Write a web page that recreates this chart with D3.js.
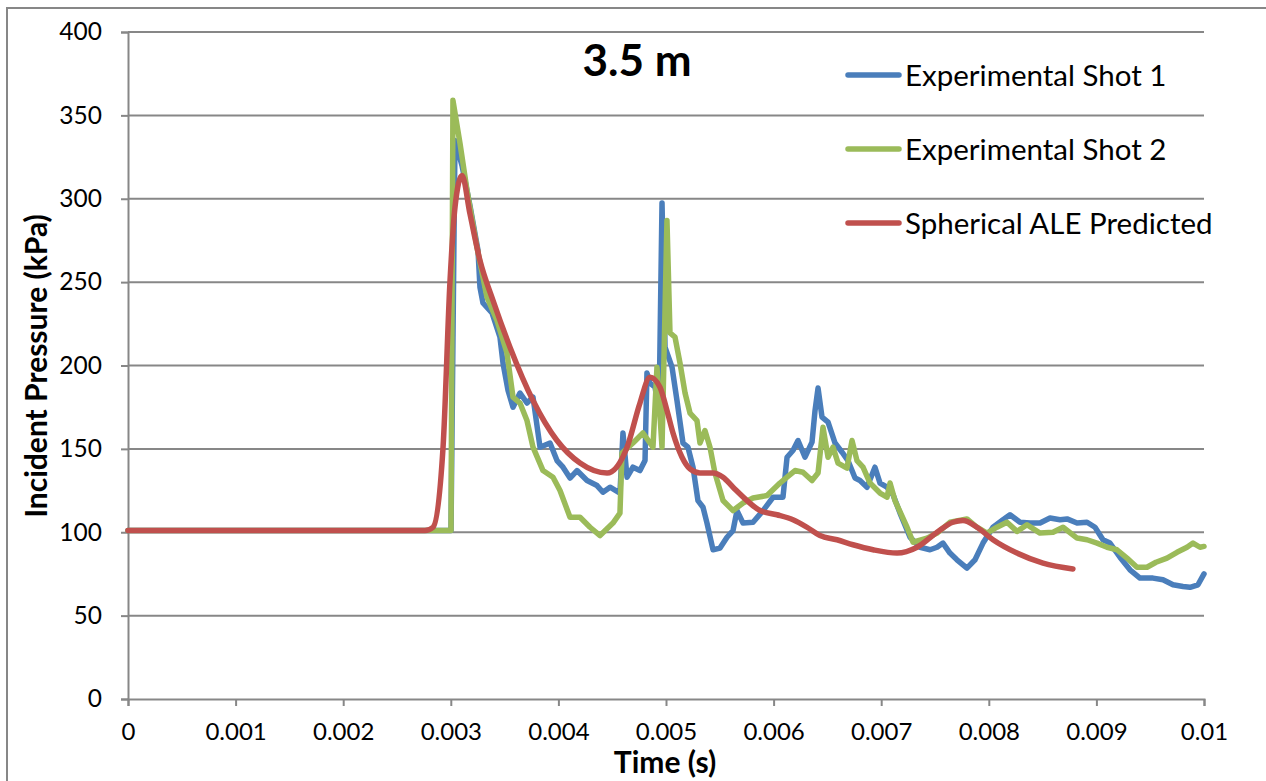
<!DOCTYPE html>
<html>
<head>
<meta charset="utf-8">
<script src="https://cdn.jsdelivr.net/npm/d3@7"></script>
<style>
  html, body { margin: 0; padding: 0; background: #ffffff; }
  svg { display: block; }
  text { font-family: "Lato", "Liberation Sans", sans-serif; fill: #000; }
</style>
</head>
<body>
<svg id="chart" width="1266" height="781"></svg>
<script>
// Time in seconds, incident pressure in kPa
const shot1 = [
  [0, 101], [0.003002, 101], [0.003039, 335], [0.003104, 320], [0.003178, 296], [0.003253, 269],
  [0.003271, 247], [0.003299, 237.5], [0.003383, 231.5], [0.003457, 217], [0.003485, 201.5],
  [0.003532, 185], [0.003578, 175], [0.003643, 183.5], [0.003708, 177.5], [0.003764, 181],
  [0.003829, 151], [0.003922, 153.5], [0.003987, 143], [0.004043, 139], [0.004108, 132.5],
  [0.004173, 137], [0.004266, 131], [0.004359, 128], [0.004414, 124], [0.004480, 127],
  [0.004572, 123.5], [0.004600, 159.5], [0.004638, 133], [0.004693, 139], [0.004758, 137],
  [0.004805, 143], [0.004823, 195.5], [0.004851, 189.5], [0.004898, 187], [0.004935, 171.5],
  [0.004963, 297.5], [0.004991, 211], [0.005056, 199], [0.005102, 179], [0.005158, 153.5],
  [0.005204, 151], [0.005251, 139], [0.005297, 119], [0.005344, 115], [0.005381, 105.5],
  [0.005437, 89.5], [0.005502, 90.5], [0.005567, 97], [0.005623, 101], [0.005660, 113],
  [0.005716, 105.5], [0.005809, 106], [0.005902, 113], [0.005995, 121], [0.006087, 121],
  [0.006125, 145], [0.006180, 149], [0.006227, 155], [0.006292, 145], [0.006357, 154],
  [0.006385, 173], [0.006413, 186.5], [0.006450, 169], [0.006506, 166], [0.006571, 153.5],
  [0.006636, 148], [0.006691, 143], [0.006757, 132.5], [0.006803, 131], [0.006868, 127],
  [0.006942, 139], [0.006989, 129.5], [0.007054, 127], [0.007110, 122.5], [0.007175, 111.5],
  [0.007268, 97], [0.007361, 91], [0.007454, 89.5], [0.007519, 91], [0.007574, 93.5],
  [0.007639, 87.5], [0.007704, 83.5], [0.007797, 78.5], [0.007872, 83.5], [0.007946, 93.5],
  [0.008039, 103], [0.008132, 107.5], [0.008197, 110.5], [0.008290, 106], [0.008383, 105.5],
  [0.008476, 105.5], [0.008569, 108.5], [0.008662, 107.5], [0.008727, 108], [0.008820, 105.5],
  [0.008913, 106], [0.008987, 103], [0.009061, 95.5], [0.009126, 93.5], [0.009219, 85],
  [0.009312, 77.5], [0.009405, 72.5], [0.009526, 72.5], [0.009619, 71.5], [0.009712, 68.5],
  [0.009805, 67.5], [0.009870, 67], [0.009944, 68.5], [0.010000, 75]
];

const shot2 = [
  [0, 101], [0.003002, 101], [0.003020, 359], [0.003086, 333], [0.003151, 305], [0.003243, 271],
  [0.003336, 241], [0.003429, 227], [0.003522, 207.5], [0.003578, 181], [0.003643, 177.5],
  [0.003708, 167], [0.003764, 151], [0.003857, 137], [0.003950, 133], [0.004015, 125],
  [0.004108, 109], [0.004201, 109], [0.004294, 103], [0.004387, 98], [0.004507, 105.5],
  [0.004572, 111.5], [0.004591, 147.5], [0.004693, 153.5], [0.004786, 159.5], [0.004879, 151],
  [0.004916, 199], [0.004963, 151], [0.005009, 287], [0.005037, 219.5], [0.005084, 217],
  [0.005130, 201.5], [0.005177, 183.5], [0.005223, 171.5], [0.005288, 167], [0.005316, 153.5],
  [0.005362, 161], [0.005409, 151], [0.005455, 135.5], [0.005530, 119], [0.005623, 113],
  [0.005716, 117.5], [0.005809, 120.5], [0.005939, 122], [0.006059, 129.5], [0.006125, 133],
  [0.006199, 137], [0.006273, 136], [0.006357, 131], [0.006413, 135.5], [0.006459, 163],
  [0.006506, 145], [0.006552, 151], [0.006599, 141.5], [0.006682, 138.5], [0.006729, 155],
  [0.006775, 143], [0.006831, 139], [0.006896, 129.5], [0.006989, 123.5], [0.007054, 121],
  [0.007082, 129.5], [0.007128, 119], [0.007240, 103], [0.007296, 94], [0.007426, 96.5],
  [0.007519, 99.5], [0.007639, 106], [0.007797, 108], [0.007890, 103], [0.007983, 99.5],
  [0.008076, 103], [0.008169, 106], [0.008262, 100.5], [0.008355, 104.5], [0.008476, 99.5],
  [0.008597, 100], [0.008690, 103], [0.008820, 96.5], [0.008913, 95.5], [0.009006, 93.5],
  [0.009099, 91], [0.009191, 89.5], [0.009284, 84.5], [0.009377, 79], [0.009470, 79],
  [0.009554, 82], [0.009656, 84.5], [0.009749, 88], [0.009842, 91], [0.009898, 93.5],
  [0.009963, 91], [0.010000, 91.5]
];

const aleModel = [
  [0, 101], [0.002760, 101], [0.002835, 103], [0.002928, 151], [0.002993, 251], [0.003039, 295],
  [0.003104, 314], [0.003178, 291], [0.003271, 263], [0.003392, 239], [0.003550, 211],
  [0.003764, 179], [0.003987, 155], [0.004201, 141.5], [0.004452, 135.5], [0.004638, 151],
  [0.004758, 177.5], [0.004851, 193], [0.004944, 187], [0.005009, 173], [0.005065, 159.5],
  [0.005149, 145], [0.005223, 138], [0.005316, 135.5], [0.005437, 135.5], [0.005530, 133],
  [0.005623, 127], [0.005753, 119], [0.005874, 113], [0.006032, 110.5], [0.006180, 107.5],
  [0.006310, 103], [0.006431, 98], [0.006589, 95.5], [0.006738, 92.5], [0.006924, 89.5],
  [0.007147, 87.5], [0.007333, 91], [0.007519, 100], [0.007667, 106], [0.007760, 107],
  [0.007890, 103], [0.008039, 95.5], [0.008262, 87.5], [0.008504, 81.5], [0.008782, 78]
];

const xTicks = [0, 0.001, 0.002, 0.003, 0.004, 0.005, 0.006, 0.007, 0.008, 0.009, 0.01];
const yTicks = [0, 50, 100, 150, 200, 250, 300, 350, 400];

const seriesNames = ["Experimental Shot 1", "Experimental Shot 2", "Spherical ALE Predicted"];
const seriesColors = ["#4a7ebb", "#9bbb59", "#c0504d"];

const svg = d3.select("#chart");
const x = d3.scaleLinear().domain([0, 0.01]).range([128, 1204]);
const y = d3.scaleLinear().domain([0, 400]).range([699, 32]);
const grey = "#878787";

// chart frame
svg.append("rect")
  .attr("x", 7).attr("y", 8).attr("width", 1300).attr("height", 800)
  .attr("fill", "none").attr("stroke", grey).attr("stroke-width", 2);

// horizontal gridlines
svg.append("g").selectAll("line").data(yTicks.filter(d => d > 0)).join("line")
  .attr("x1", x(0)).attr("x2", x(0.01))
  .attr("y1", d => y(d)).attr("y2", d => y(d))
  .attr("stroke", grey).attr("stroke-width", 2);

// y axis
const yAxis = svg.append("g")
  .attr("transform", `translate(${x(0)},0)`)
  .call(d3.axisLeft(y).tickValues(yTicks).tickSize(7).tickPadding(19).tickFormat(d3.format("d")));
yAxis.select(".domain").attr("stroke", grey).attr("stroke-width", 2);
yAxis.selectAll(".tick line").attr("stroke", grey).attr("stroke-width", 2);
yAxis.selectAll(".tick text").attr("font-size", 24.5).attr("font-family", "Lato");

// x axis
const xAxis = svg.append("g")
  .attr("transform", `translate(0,${y(0)})`)
  .call(d3.axisBottom(x).tickValues(xTicks).tickSize(7).tickPadding(17)
    .tickFormat(d => d === 0 ? "0" : String(+d.toFixed(3))));
xAxis.select(".domain").attr("stroke", grey).attr("stroke-width", 2);
xAxis.selectAll(".tick line").attr("stroke", grey).attr("stroke-width", 2);
xAxis.selectAll(".tick text").attr("font-size", 24).attr("font-family", "Lato");

// series lines
const line = d3.line().x(d => x(d[0])).y(d => y(d[1]));
const smooth = d3.line().x(d => x(d[0])).y(d => y(d[1])).curve(d3.curveMonotoneX);

[shot1, shot2].forEach((s, i) => {
  svg.append("path").datum(s)
    .attr("d", line)
    .attr("fill", "none").attr("stroke", seriesColors[i])
    .attr("stroke-width", 5.5).attr("stroke-linejoin", "round").attr("stroke-linecap", "round");
});
svg.append("path").datum(aleModel)
  .attr("d", smooth)
  .attr("fill", "none").attr("stroke", seriesColors[2])
  .attr("stroke-width", 5.5).attr("stroke-linejoin", "round").attr("stroke-linecap", "round");

// title
svg.append("text")
  .attr("x", 637).attr("y", 76).attr("text-anchor", "middle")
  .attr("font-size", 44).attr("font-weight", "bold")
  .text("3.5 m");

// legend
const legend = svg.append("g");
seriesNames.forEach((name, i) => {
  const ly = 75 + i * 74;
  legend.append("line")
    .attr("x1", 848).attr("x2", 899).attr("y1", ly).attr("y2", ly)
    .attr("stroke", seriesColors[i]).attr("stroke-width", 5.5).attr("stroke-linecap", "round");
  legend.append("text")
    .attr("x", 905).attr("y", ly + 11)
    .attr("font-size", 29.5)
    .text(name);
});

// axis titles
svg.append("text")
  .attr("x", 665).attr("y", 773).attr("text-anchor", "middle")
  .attr("font-size", 30).attr("font-weight", "bold")
  .text("Time (s)");

svg.append("text")
  .attr("transform", "translate(47,366) rotate(-90)")
  .attr("text-anchor", "middle")
  .attr("font-size", 30).attr("font-weight", "bold")
  .text("Incident Pressure (kPa)");
</script>
</body>
</html>
